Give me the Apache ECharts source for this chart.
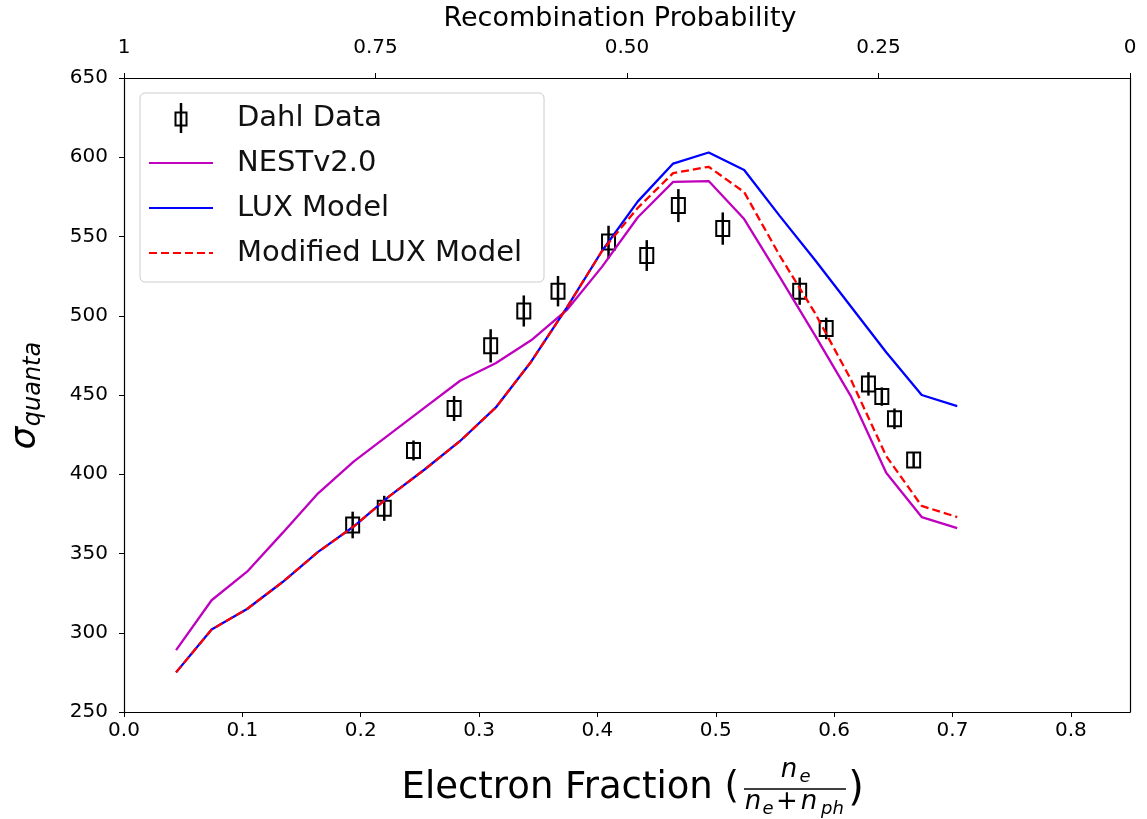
<!DOCTYPE html>
<html><head><meta charset="utf-8">
<script src="https://cdn.jsdelivr.net/npm/echarts@6/dist/echarts.min.js"></script>
<style>html,body{margin:0;padding:0;background:#fff}#c{width:1147px;height:819px}</style>
</head><body><div id="c"></div>
<script>
// ---- data ----
const xModel = [0.044, 0.074, 0.104, 0.134, 0.164, 0.194, 0.224, 0.254, 0.284, 0.314, 0.344, 0.374, 0.404, 0.434, 0.464, 0.494, 0.524, 0.554, 0.584, 0.614, 0.644, 0.674, 0.704];
const nestY   = [289, 320.5, 338.5, 363, 388, 408, 425, 442, 459, 470, 484.5, 503.5, 531, 562, 584.5, 585, 561, 524.5, 487.5, 449.5, 401, 373, 366];
const luxY    = [275, 302, 315, 332, 351, 367, 386, 403, 421, 442, 471, 505, 541, 572, 596, 603, 592, 563, 535, 506, 477, 450, 443];
const modLuxY = [275, 302, 315, 332, 351, 367, 386, 403, 421, 442, 471, 505, 541, 568, 590, 594, 578, 538, 501.5, 460, 411.5, 380, 373];
const dahlX   = [0.1932, 0.2199, 0.2446, 0.2789, 0.3098, 0.3378, 0.3667, 0.4094, 0.4417, 0.4684, 0.5059, 0.5709, 0.5933, 0.629, 0.6403, 0.651, 0.6672];
const dahlY   = [368, 378.5, 415, 441.5, 481, 503, 515.5, 546.5, 538, 569.5, 555, 515.5, 492, 457, 449, 435, 409];
const dahlErr = [8.4, 7.9, 6.3, 7.9, 10.5, 9.8, 9.6, 10.3, 9.7, 10.4, 10.2, 8.6, 6.8, 7.4, 5.8, 6.5, 4.5];
const xTicks  = [0, 0.1, 0.2, 0.3, 0.4, 0.5, 0.6, 0.7, 0.8];
const topTicks = [1, 0.75, 0.5, 0.25, 0];
const yMin = 250, yMax = 650, yStep = 50;

const FONT = 'DejaVu Sans';
const chart = echarts.init(document.getElementById('c'), null, {renderer: 'canvas'});

const axisCommon = {
  axisLine: {show: true, lineStyle: {color: '#000', width: 1.2}},
  axisTick: {show: true, inside: false, length: 5, lineStyle: {color: '#000', width: 1}},
  splitLine: {show: false},
  axisLabel: {color: '#000', fontFamily: FONT, fontSize: 20}
};
const hiddenSym = {color: 'rgba(0,0,0,0)', borderWidth: 0, opacity: 0};

const option = {
  animation: false,
  backgroundColor: '#fff',
  grid: {left: 124, right: 17, top: 78, bottom: 107, containLabel: false},
  xAxis: [
    Object.assign({}, axisCommon, {
      type: 'value', position: 'bottom', min: 0, max: 0.85,
      axisTick: Object.assign({}, axisCommon.axisTick, {customValues: xTicks}),
      axisLabel: Object.assign({}, axisCommon.axisLabel, {margin: 9, customValues: xTicks, formatter: v => v.toFixed(1)})
    }),
    Object.assign({}, axisCommon, {
      type: 'value', position: 'top', min: 0, max: 1, inverse: true,
      axisTick: Object.assign({}, axisCommon.axisTick, {customValues: topTicks}),
      axisLabel: Object.assign({}, axisCommon.axisLabel, {margin: 20, customValues: topTicks,
        formatter: v => (v === 1 ? '1' : v === 0 ? '0' : v.toFixed(2))})
    })
  ],
  yAxis: [
    Object.assign({}, axisCommon, {
      type: 'value', position: 'left', min: yMin, max: yMax, interval: yStep,
      axisLabel: Object.assign({}, axisCommon.axisLabel, {margin: 16})
    }),
    {type: 'value', position: 'right', min: yMin, max: yMax, interval: yStep,
     axisLine: {show: true, lineStyle: {color: '#000', width: 1.2}},
     axisTick: {show: false}, axisLabel: {show: false}, splitLine: {show: false}}
  ],
  legend: {
    orient: 'vertical', left: 140, top: 93, padding: [10, 13, 14, 8],
    itemWidth: 64, itemHeight: 30, itemGap: 15,
    backgroundColor: 'rgba(255,255,255,0.85)', borderColor: '#cccccc', borderWidth: 1, borderRadius: 5,
    selectedMode: false,
    textStyle: {fontFamily: FONT, fontSize: 29, color: '#111', lineHeight: 30, width: 294, padding: [0, 0, 0, 19]},
    data: [
      {name: 'Dahl Data', icon: 'path://M0 0h0.01v0.01zM64 30h-0.01v-0.01zM25.5 8.5h13v15h-13zM27.5 10.5v11h9v-11zM30.75 0h2.5v30h-2.5z', itemStyle: {color: '#000', borderWidth: 0}},
      {name: 'NESTv2.0', itemStyle: hiddenSym},
      {name: 'LUX Model', itemStyle: hiddenSym},
      {name: 'Modified LUX Model', itemStyle: hiddenSym}
    ]
  },
  graphic: [
    {type: 'text', x: 620, y: 19, style: {text: 'Recombination Probability', font: '27px "DejaVu Sans"', fill: '#000', textAlign: 'center', textVerticalAlign: 'middle'}},
    {type: 'text', x: 26, y: 438, rotation: Math.PI / 2, style: {text: 'σ', font: 'italic 36px "DejaVu Sans"', fill: '#000', textAlign: 'center', textVerticalAlign: 'middle'}},
    {type: 'text', x: 34, y: 384, rotation: Math.PI / 2, style: {text: 'quanta', font: 'italic 24px "DejaVu Sans"', fill: '#000', textAlign: 'center', textVerticalAlign: 'middle'}},
    {type: 'text', x: 739, y: 788, style: {text: 'Electron Fraction (', font: '37px "DejaVu Sans"', fill: '#000', textAlign: 'right', textVerticalAlign: 'middle'}},
    {type: 'text', x: 789, y: 770, style: {text: 'n', font: 'italic 26px "DejaVu Sans"', fill: '#000', textAlign: 'center', textVerticalAlign: 'middle'}},
    {type: 'text', x: 805, y: 777, style: {text: 'e', font: 'italic 18px "DejaVu Sans"', fill: '#000', textAlign: 'center', textVerticalAlign: 'middle'}},
    {type: 'line', shape: {x1: 744, y1: 789, x2: 846, y2: 789}, style: {stroke: '#000', lineWidth: 1.5}},
    {type: 'text', x: 753, y: 802, style: {text: 'n', font: 'italic 26px "DejaVu Sans"', fill: '#000', textAlign: 'center', textVerticalAlign: 'middle'}},
    {type: 'text', x: 768, y: 809, style: {text: 'e', font: 'italic 18px "DejaVu Sans"', fill: '#000', textAlign: 'center', textVerticalAlign: 'middle'}},
    {type: 'text', x: 787, y: 802, style: {text: '+', font: '26px "DejaVu Sans"', fill: '#000', textAlign: 'center', textVerticalAlign: 'middle'}},
    {type: 'text', x: 809, y: 802, style: {text: 'n', font: 'italic 26px "DejaVu Sans"', fill: '#000', textAlign: 'center', textVerticalAlign: 'middle'}},
    {type: 'text', x: 821, y: 809, style: {text: 'ph', font: 'italic 18px "DejaVu Sans"', fill: '#000', textAlign: 'left', textVerticalAlign: 'middle'}},
    {type: 'text', x: 856, y: 790, style: {text: ')', font: '40px "DejaVu Sans"', fill: '#000', textAlign: 'center', textVerticalAlign: 'middle'}}
  ],
  series: [
    {
      name: 'Dahl Data', type: 'custom', xAxisIndex: 0, yAxisIndex: 0, z: 3,
      itemStyle: {color: '#000'},
      encode: {x: 0, y: 1},
      data: dahlX.map((x, i) => [x, dahlY[i], dahlErr[i]]),
      renderItem: function (params, api) {
        const x = api.value(0), y = api.value(1), e = api.value(2);
        const c = api.coord([x, y]);
        const t = api.coord([x, y + e]);
        const b = api.coord([x, y - e]);
        return {type: 'group', children: [
          {type: 'line', shape: {x1: c[0], y1: t[1], x2: c[0], y2: b[1]}, style: {stroke: '#000', lineWidth: 2.5}},
          {type: 'rect', shape: {x: c[0] - 6.5, y: c[1] - 7.5, width: 13, height: 15}, style: {stroke: '#000', fill: null, lineWidth: 2}}
        ]};
      }
    },
    {name: 'NESTv2.0', type: 'line', xAxisIndex: 0, yAxisIndex: 0, symbol: 'none', showSymbol: false, z: 4,
     lineStyle: {color: '#bf00bf', width: 2.3}, itemStyle: {color: '#bf00bf'},
     data: xModel.map((x, i) => [x, nestY[i]])},
    {name: 'LUX Model', type: 'line', xAxisIndex: 0, yAxisIndex: 0, symbol: 'none', showSymbol: false, z: 5,
     lineStyle: {color: '#0000ff', width: 2.3}, itemStyle: {color: '#0000ff'},
     data: xModel.map((x, i) => [x, luxY[i]])},
    {name: 'Modified LUX Model', type: 'line', xAxisIndex: 0, yAxisIndex: 0, symbol: 'none', showSymbol: false, z: 6,
     lineStyle: {color: '#ff0000', width: 2.3, type: [8, 4]}, itemStyle: {color: '#ff0000'},
     data: xModel.map((x, i) => [x, modLuxY[i]])}
  ]
};
chart.setOption(option);
</script>
</body></html>
